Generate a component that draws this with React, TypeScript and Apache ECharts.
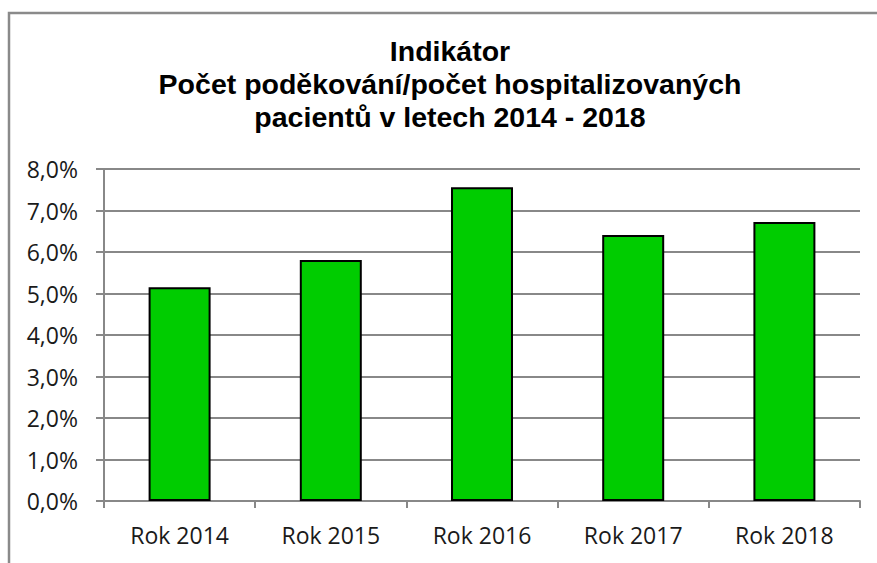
import React, { useEffect, useRef } from "react";
import * as echarts from "echarts";

const categories = ["Rok 2014", "Rok 2015", "Rok 2016", "Rok 2017", "Rok 2018"];
const values = [5.15, 5.81, 7.56, 6.41, 6.72];
const titleLines = [
  "Indikátor",
  "Počet poděkování/počet hospitalizovaných",
  "pacientů v letech 2014 - 2018",
];
const yMin = 0;
const yMax = 8;
const yInterval = 1;

export default function App() {
  const ref = useRef<HTMLDivElement>(null);
  useEffect(() => {
    if (!ref.current) return;
    const chart = echarts.init(ref.current, null, { renderer: "svg" });
    chart.setOption({
      animation: false,
      backgroundColor: "#ffffff",
      graphic: [
        {
          type: "rect",
          shape: { x: 9, y: 13, width: 900, height: 600 },
          style: { fill: "none", stroke: "#8a8a8a", lineWidth: 2.5 },
          silent: true,
        },
        {
          type: "text",
          x: 450,
          y: 34,
          style: {
            text: titleLines.join("\n"),
            align: "center",
            verticalAlign: "top",
            fontFamily: "Liberation Sans",
            fontWeight: "bold",
            fontSize: 28.5,
            lineHeight: 33,
            fill: "#000000",
          },
        },
      ],
      grid: { left: 104, right: 17, top: 169, bottom: 62, containLabel: false },
      xAxis: {
        type: "category",
        data: categories,
        axisLine: { show: true, lineStyle: { color: "#888888", width: 2 } },
        axisTick: { show: true, length: 7, lineStyle: { color: "#888888", width: 2 } },
        axisLabel: {
          margin: 22,
          fontFamily: "Open Sans",
          fontSize: 23,
          color: "#1a1a1a",
        },
      },
      yAxis: {
        type: "value",
        min: yMin,
        max: yMax,
        interval: yInterval,
        axisLine: { show: true, lineStyle: { color: "#888888", width: 2 } },
        axisTick: { show: true, length: 8, lineStyle: { color: "#888888", width: 2 } },
        splitLine: { show: true, lineStyle: { color: "#888888", width: 2 } },
        axisLabel: {
          margin: 26,
          fontFamily: "Open Sans",
          fontSize: 23,
          color: "#1a1a1a",
          formatter: (v: number) => v.toFixed(1).replace(".", ",") + "%",
        },
      },
      series: [
        {
          type: "bar",
          data: values,
          barWidth: "41%",
          itemStyle: { color: "#00cc00", borderColor: "#000000", borderWidth: 2 },
        },
      ],
    });
    return () => chart.dispose();
  }, []);
  return (
    <div
      ref={ref}
      style={{ position: "absolute", left: 0, top: 0, width: 877, height: 563 }}
    />
  );
}
